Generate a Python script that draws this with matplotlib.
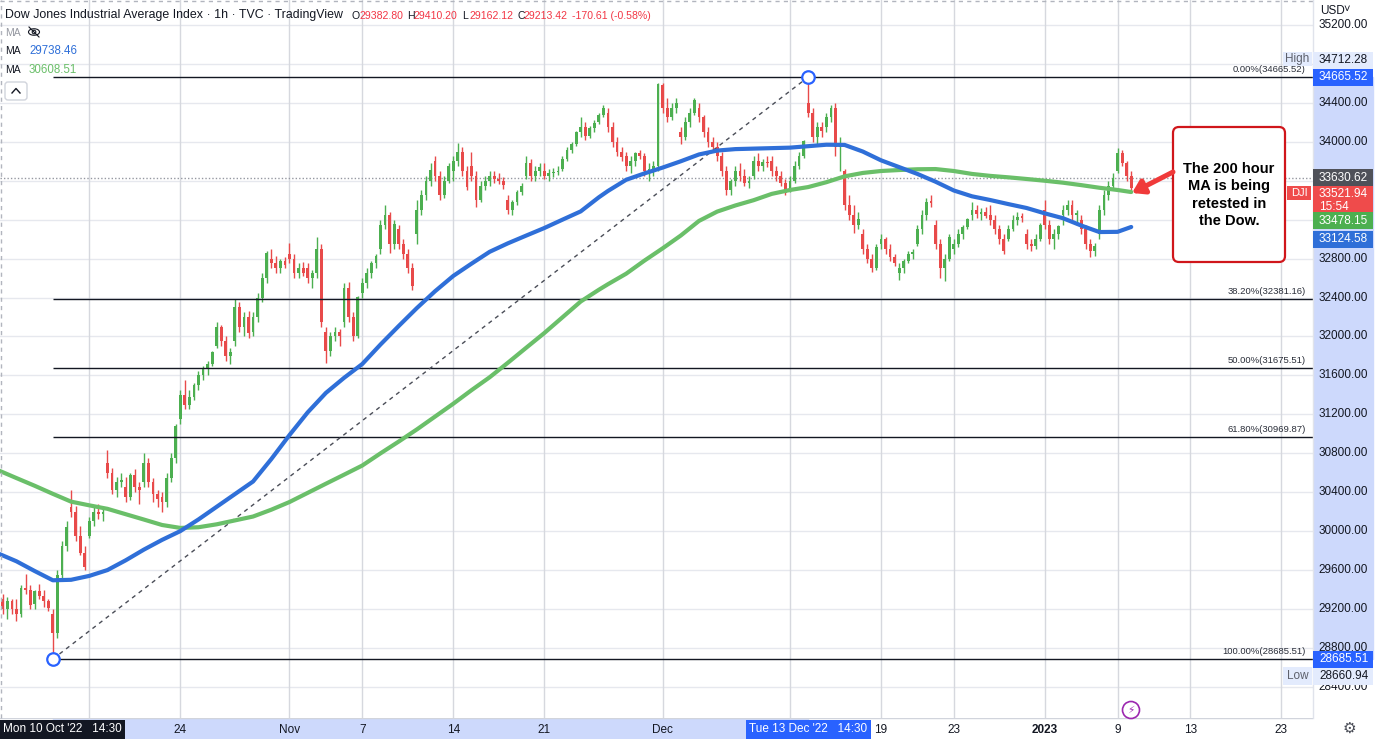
import matplotlib
matplotlib.use("Agg")
import matplotlib.pyplot as plt
import matplotlib.patches as mpatches
from matplotlib.lines import Line2D
from matplotlib.axes import Axes
from matplotlib.figure import Figure
import numpy as np

plt.rcParams['font.family'] = ['Liberation Sans', 'DejaVu Sans']

W, H = 1378, 739
PLOT_RIGHT = 1313
AXIS_TOP = 718

GREEN = '#4caf50'
RED = '#e84a4a'
MA_BLUE = '#2f6fd8'
MA_GREEN = '#6abf69'
TV_BLUE = '#2962ff'
BAND = '#cdd9fc'
GRID = '#e6e8ee'
VGRID = '#d6d8de'
TEXT = '#131722'

# ---------------------------------------------------------------- data
trading_days = [
    '2022-10-10', '2022-10-11', '2022-10-12', '2022-10-13', '2022-10-14',
    '2022-10-17', '2022-10-18', '2022-10-19', '2022-10-20', '2022-10-21',
    '2022-10-24', '2022-10-25', '2022-10-26', '2022-10-27', '2022-10-28',
    '2022-10-31', '2022-11-01', '2022-11-02', '2022-11-03', '2022-11-04',
    '2022-11-07', '2022-11-08', '2022-11-09', '2022-11-10', '2022-11-11',
    '2022-11-14', '2022-11-15', '2022-11-16', '2022-11-17', '2022-11-18',
    '2022-11-21', '2022-11-22', '2022-11-23', '2022-11-25',
    '2022-11-28', '2022-11-29', '2022-11-30', '2022-12-01', '2022-12-02',
    '2022-12-05', '2022-12-06', '2022-12-07', '2022-12-08', '2022-12-09',
    '2022-12-12', '2022-12-13', '2022-12-14', '2022-12-15', '2022-12-16',
    '2022-12-19', '2022-12-20', '2022-12-21', '2022-12-22', '2022-12-23',
    '2022-12-27', '2022-12-28', '2022-12-29', '2022-12-30',
    '2023-01-03', '2023-01-04', '2023-01-05', '2023-01-06', '2023-01-09',
]
half_days = ['2022-11-25']
future_days = [
    '2023-01-10', '2023-01-11', '2023-01-12', '2023-01-13', '2023-01-17',
    '2023-01-18', '2023-01-19', '2023-01-20', '2023-01-23',
]

# candles, one row per trading day (4 bars, 2 on the half day)
opens = [
    29400, 29300, 29200, 29280,  29200, 29150, 29420, 29400,  29250, 29380, 29330, 29280,
    29150, 28950, 29550, 29850,  30250, 30200, 29950, 29780,  29950, 30100, 30200, 30180,
    30700, 30600, 30420, 30500,  30450, 30350, 30580, 30450,  30500, 30700, 30500, 30380,
    30350, 30300, 30550, 30750,  31150, 31400, 31300, 31380,  31500, 31600, 31680, 31720,
    31900, 32100, 31950, 31800,  31950, 32300, 32100, 32200,  32050, 32200, 32400, 32600,
    32800, 32750, 32700, 32780,  32850, 32800, 32650, 32700,  32700, 32600, 32650, 32900,
    32050, 31850, 32000, 32050,  32150, 32500, 32200, 32000,  32450, 32550, 32650, 32750,
    32900, 33150, 33250, 32950,  33100, 32950, 32850, 32700,  33050, 33300, 33450, 33600,
    33800, 33650, 33450, 33600,  33700, 33800, 33900, 33700,  33750, 33650, 33400, 33550,
    33600, 33650, 33620, 33600,  33400, 33300, 33380, 33480,  33650, 33780, 33650, 33700,
    33700, 33650, 33680, 33690,  33720, 33820, 33920, 33980,  34100, 34150, 34060, 34140,
    34200, 34280,
    34300, 34150, 34000, 33900,  33850, 33750, 33800, 33880,  33850, 33700, 33720, 33750,
    34580, 34350, 34250, 34350,  34100, 34050, 34200, 34300,  34350, 34250, 34100, 34000,
    33950, 33850, 33700, 33500,  33600, 33700, 33650, 33580,  33650, 33800, 33750, 33790,
    33800, 33700, 33650, 33580,  33500, 33600, 33750, 33850,  34400, 34300, 34050, 34150,
    34150, 34250, 34350, 33950,  33700, 33350, 33250, 33150,  33050, 32900, 32800, 32700,
    32950, 33000, 32900, 32820,  32650, 32700, 32780, 32850,  32950, 33100, 33250, 33380,
    33150, 32950, 32700, 32800,  32900, 32950, 33050, 33120,  33250, 33300, 33260, 33280,
    33250, 33200, 33100, 33000,  33000, 33100, 33200, 33230,  33050, 32950, 32930, 33000,
    33300, 33150, 33000, 33050,  33250, 33300, 33350, 33250,  33200, 33100, 32950, 32880,
    33050, 33300, 33450, 33550,  33700, 33880, 33780, 33650,
]
highs = [
    29450, 29350, 29320, 29300,  29300, 29450, 29560, 29450,  29400, 29460, 29400, 29300,
    29200, 29600, 29900, 30100,  30420, 30260, 30050, 29850,  30150, 30250, 30280, 30240,
    30830, 30650, 30560, 30600,  30560, 30600, 30640, 30500,  30800, 30750, 30550, 30420,
    30400, 30600, 30800, 31100,  31450, 31550, 31450, 31520,  31650, 31700, 31750, 31850,
    32150, 32120, 32000, 31880,  32380, 32350, 32250, 32260,  32250, 32450, 32650, 32880,
    32900, 32830, 32800, 32820,  32960, 32850, 32750, 32760,  32750, 32680, 33020, 32950,
    32100, 32050, 32100, 32080,  32550, 32560, 32250, 32420,  32600, 32700, 32780, 32850,
    33200, 33350, 33280, 33200,  33150, 33000, 32900, 32750,  33400, 33500, 33650, 33780,
    33850, 33700, 33650, 33780,  33850, 33990, 33950, 33750,  33900, 33700, 33600, 33650,
    33700, 33700, 33680, 33640,  33450, 33400, 33500, 33580,  33850, 33820, 33750, 33780,
    33780, 33720, 33730, 33750,  33850, 33950, 34000, 34110,  34250, 34200, 34160, 34220,
    34300, 34380,
    34350, 34200, 34050, 33950,  33900, 33850, 33900, 33920,  33880, 33780, 33800, 34600,
    34600, 34450, 34400, 34450,  34150, 34250, 34350, 34450,  34400, 34280, 34150, 34050,
    34000, 33900, 33750, 33620,  33750, 33780, 33720, 33650,  33850, 33880, 33820, 33850,
    33850, 33750, 33700, 33620,  33650, 33800, 33900, 34020,  34712, 34350, 34200, 34200,
    34300, 34380, 34400, 34050,  33720, 33450, 33350, 33280,  33100, 32950, 32850, 32950,
    33050, 33020, 32950, 32850,  32750, 32800, 32880, 32900,  33150, 33300, 33420, 33450,
    33200, 33000, 32850, 33050,  33000, 33100, 33150, 33220,  33380, 33350, 33320, 33330,
    33350, 33250, 33150, 33050,  33150, 33250, 33280, 33270,  33100, 33000, 33050, 33170,
    33400, 33200, 33100, 33150,  33350, 33400, 33400, 33300,  33250, 33150, 33000, 32960,
    33350, 33500, 33600, 33680,  33935, 33920, 33800, 33700,
]
lows = [
    29250, 29150, 29100, 29150,  29080, 29120, 29350, 29200,  29200, 29300, 29220, 29180,
    28661, 28900, 29500, 29800,  30150, 29900, 29750, 29600,  29930, 30050, 30120, 30100,
    30550, 30380, 30350, 30450,  30300, 30320, 30400, 30280,  30450, 30450, 30300, 30250,
    30200, 30250, 30500, 30700,  31100, 31250, 31250, 31350,  31450, 31550, 31600, 31700,
    31880, 31900, 31750, 31720,  31900, 32050, 32000, 31980,  32000, 32150, 32350, 32550,
    32700, 32650, 32650, 32700,  32750, 32600, 32600, 32620,  32550, 32500, 32600, 32100,
    31730, 31800, 31950, 31900,  32100, 32150, 31950, 31980,  32400, 32500, 32600, 32700,
    32850, 33100, 32860, 32900,  32900, 32800, 32650, 32480,  32950, 33250, 33400, 33550,
    33600, 33400, 33420, 33580,  33600, 33750, 33650, 33500,  33600, 33330, 33380, 33500,
    33550, 33580, 33570, 33520,  33260, 33250, 33350, 33450,  33620, 33600, 33600, 33650,
    33620, 33600, 33640, 33660,  33700, 33800, 33880, 33960,  34050, 34020, 34040, 34100,
    34180, 34250,
    34100, 33950, 33850, 33800,  33700, 33680, 33750, 33820,  33650, 33600, 33650, 33700,
    34300, 34200, 34220, 34300,  33980, 34020, 34150, 34280,  34200, 34050, 33950, 33900,
    33800, 33650, 33450, 33450,  33550, 33600, 33550, 33530,  33620, 33700, 33700, 33740,
    33650, 33600, 33550, 33450,  33480, 33580, 33720, 33830,  34250, 34000, 33980, 34050,
    34100, 34200, 33850, 33700,  33300, 33200, 33060, 33100,  32850, 32750, 32660, 32680,
    32900, 32850, 32780, 32720,  32580, 32650, 32750, 32800,  32930, 33050, 33200, 33330,
    32900, 32600, 32573, 32780,  32850, 32920, 33000, 33100,  33200, 33220, 33200, 33220,
    33150, 33050, 32950, 32850,  32980, 33080, 33150, 33180,  32900, 32880, 32900, 32980,
    33100, 32950, 32900, 33000,  33150, 33250, 33200, 33150,  33050, 32900, 32820, 32830,
    33000, 33250, 33400, 33500,  33680, 33750, 33600, 33500,
]
closes = [
    29300, 29200, 29280, 29200,  29150, 29420, 29400, 29240,  29380, 29330, 29280, 29210,
    28950, 29550, 29850, 30040,  30200, 29950, 29780, 29634,  30100, 30200, 30180, 30185,
    30600, 30420, 30500, 30523,  30350, 30580, 30450, 30423,  30700, 30500, 30380, 30333,
    30300, 30550, 30750, 31082,  31400, 31300, 31380, 31499,  31600, 31680, 31720, 31836,
    32100, 31950, 31800, 31839,  32300, 32100, 32200, 32033,  32200, 32400, 32600, 32861,
    32750, 32700, 32780, 32733,  32800, 32650, 32700, 32653,  32600, 32650, 32900, 32147,
    31850, 32000, 32050, 32001,  32500, 32200, 32000, 32403,  32550, 32650, 32750, 32827,
    33150, 33250, 32950, 33160,  32950, 32850, 32700, 32514,  33300, 33450, 33600, 33715,
    33650, 33450, 33600, 33747,  33800, 33900, 33700, 33537,  33650, 33400, 33550, 33593,
    33650, 33620, 33600, 33554,  33300, 33380, 33480, 33546,  33780, 33650, 33700, 33746,
    33650, 33680, 33690, 33700,  33820, 33920, 33980, 34098,  34150, 34060, 34140, 34194,
    34280, 34347,
    34150, 34000, 33900, 33849,  33750, 33800, 33880, 33853,  33700, 33720, 33750, 34590,
    34350, 34250, 34350, 34395,  34050, 34200, 34300, 34430,  34250, 34100, 34000, 33947,
    33850, 33700, 33500, 33596,  33700, 33650, 33580, 33597,  33800, 33750, 33790, 33781,
    33700, 33650, 33580, 33476,  33600, 33750, 33850, 34005,  34300, 34050, 34150, 34108,
    34250, 34350, 33950, 33966,  33350, 33250, 33150, 33202,  32900, 32800, 32700, 32920,
    33000, 32900, 32820, 32757,  32700, 32780, 32850, 32850,  33100, 33250, 33380, 33376,
    32950, 32700, 32800, 33027,  32950, 33050, 33120, 33203,  33300, 33260, 33280, 33241,
    33200, 33100, 33000, 32875,  33100, 33200, 33230, 33221,  32950, 32930, 33000, 33147,
    33150, 33000, 33050, 33136,  33300, 33350, 33250, 33270,  33100, 32950, 32880, 32930,
    33300, 33450, 33550, 33631,  33880, 33780, 33650, 33522,
]

# moving averages read at the first bar of each day, last value at the final bar
ma100 = [
    29770, 29690, 29590, 29495, 29500, 29540, 29600, 29700, 29810, 29910,
    30000, 30120, 30250, 30380, 30510, 30740, 30987, 31220, 31420, 31575,
    31717, 31917, 32107, 32292, 32465, 32622, 32748, 32870, 32957, 33036,
    33114, 33200, 33285, 33430, 33495, 33610, 33675, 33735, 33800, 33870,
    33910, 33925, 33930, 33935, 33940, 33955, 33970, 33968, 33900, 33810,
    33740, 33670, 33590, 33500, 33440, 33402, 33360, 33320, 33265, 33215,
    33140, 33073, 33075, 33125,
]
ma200 = [
    30625, 30545, 30466, 30383, 30303, 30265, 30229, 30174, 30119, 30063,
    30033, 30040, 30070, 30110, 30150, 30220, 30299, 30393, 30487, 30580,
    30674, 30799, 30920, 31045, 31177, 31309, 31448, 31581, 31730, 31883,
    32035, 32197, 32359, 32480, 32537, 32645, 32779, 32905, 33037, 33187,
    33283, 33346, 33400, 33465, 33505, 33535, 33585, 33645, 33680, 33700,
    33710, 33718, 33720, 33700, 33670, 33650, 33635, 33618, 33600, 33580,
    33555, 33528, 33505, 33484,
]

fib_high = 34665.52
fib_low = 28685.51
fib_ratios = [0.0, 0.382, 0.5, 0.618, 1.0]

price_ticks = list(range(28400, 35201, 400))
hidden_price_ticks = [33200, 33600, 34800]

# '' = grid line only, its label sits under the crosshair date boxes
date_ticks = {
    '2022-10-17': '', '2022-10-24': '24', '2022-11-01': 'Nov', '2022-11-07': '7',
    '2022-11-14': '14', '2022-11-21': '21', '2022-12-01': 'Dec', '2022-12-12': '',
    '2022-12-19': '19', '2022-12-23': '23', '2023-01-03': '2023', '2023-01-09': '9',
    '2023-01-13': '13', '2023-01-23': '23',
}

prev_close = 33630.62
last_price = 33521.94
ma100_last = 33124.58
ma200_last = 33478.15
session_high = 34712.28
session_low = 28660.94


def px(x, y):
    """Pixel position (from top-left) to inches for fig.dpi_scale_trans."""
    return (x / 100, (H - y) / 100)


def day_start_index():
    starts, n = {}, 0
    for d in trading_days:
        starts[d] = n
        n += 2 if d in half_days else 4
    for d in future_days:
        starts[d] = n
        n += 4
    return starts


def plot_candles(ax: Axes) -> None:
    o, h, l, c = map(np.array, (opens, highs, lows, closes))
    x = np.arange(len(c))
    colors = np.where(c >= o, GREEN, RED)
    ax.vlines(x, l, h, colors=colors, lw=1, zorder=3)
    ax.bar(x, np.maximum(np.abs(c - o), 14), bottom=np.minimum(o, c),
           width=0.62, color=colors, linewidth=0, zorder=4)


def plot_mas(ax: Axes, starts: dict) -> None:
    ma_x = [starts[d] for d in trading_days] + [len(closes) - 1]
    ax.plot(ma_x, ma200, color=MA_GREEN, lw=3.0, zorder=6,
            solid_capstyle='round', solid_joinstyle='round')
    ax.plot(ma_x, ma100, color=MA_BLUE, lw=3.0, zorder=7,
            solid_capstyle='round', solid_joinstyle='round')


def plot_fib(ax: Axes) -> tuple:
    i_lo = int(np.argmin(lows))
    i_hi = int(np.argmax(highs))
    x_end = ax.get_xlim()[1]
    for r in fib_ratios:
        level = fib_high - r * (fib_high - fib_low)
        ax.hlines(level, i_lo, x_end, color=TEXT, lw=1, zorder=5)
        ax.annotate(f'{r * 100:.2f}%({level:.2f})', (x_end, level),
                    xytext=(-7, 3), textcoords='offset pixels',
                    ha='right', va='bottom', fontsize=6.8, color='#2a2e39',
                    zorder=9)
    ax.plot([i_lo, i_hi], [fib_low, fib_high], color='#4a4d57', lw=1,
            ls=(0, (3, 3)), zorder=5)
    ax.plot([i_lo, i_hi], [fib_low, fib_high], 'o', ms=9, mfc='white',
            mec=TV_BLUE, mew=1.6, zorder=9)
    return i_lo, i_hi


def style_main(ax: Axes, starts: dict) -> None:
    for side in ax.spines:
        ax.spines[side].set_visible(False)
    ax.set_xticks([])
    ax.set_yticks([])
    for p in price_ticks:
        ax.axhline(p, color=GRID, lw=1, zorder=0)
    for d in date_ticks:
        ax.axvline(starts[d], color=VGRID, lw=1, zorder=0)
    ax.axhline(prev_close, color='#9598a1', lw=1, ls=(0, (1, 1.5)), zorder=2)


def to_px_y(ax: Axes, price: float) -> float:
    return H - ax.transData.transform((0, price))[1]


def to_px_x(ax: Axes, idx: float) -> float:
    return ax.transData.transform((idx, 0))[0]


def add_rect(fig: Figure, x0, y0, x1, y1, color, **kw):
    rect = mpatches.Rectangle(px(x0, y1), (x1 - x0) / 100, (y1 - y0) / 100,
                              transform=fig.dpi_scale_trans, facecolor=color,
                              edgecolor='none', **kw)
    fig.add_artist(rect)
    return rect


def ftext(fig: Figure, x, y, s, **kw):
    kw.setdefault('fontsize', 8.5)
    kw.setdefault('color', TEXT)
    kw.setdefault('va', 'center')
    fig.text(*px(x, y), s, transform=fig.dpi_scale_trans, **kw)


def draw_time_axis(fig: Figure, ax: Axes, starts: dict, i_lo, i_hi) -> None:
    ax_t = fig.add_axes([0, 0, PLOT_RIGHT / W, (H - AXIS_TOP) / H])
    ax_t.set_xlim(ax.get_xlim())
    ax_t.set_ylim(0, 1)
    ax_t.axis('off')
    ax_t.axvspan(i_lo, i_hi, color=BAND, zorder=0)
    ax_t.axhline(1, color='#d1d4dc', lw=1)
    for d, label in date_ticks.items():
        if not label:
            continue
        ax_t.text(starts[d], 0.42, label, ha='center', va='center', fontsize=8.5,
                  color=TEXT, fontweight='bold' if label == '2023' else 'normal')
    for idx, label, color in [(i_lo, "Mon 10 Oct '22   14:30", TEXT),
                              (i_hi, "Tue 13 Dec '22   14:30", TV_BLUE)]:
        cx = max(to_px_x(ax, idx), 62.5)
        add_rect(fig, cx - 62.5, 720, cx + 62.5, 739, color, zorder=5)
        ftext(fig, cx, 729.5, label, ha='center', color='white', fontsize=8.5,
              zorder=6)


def axis_label(fig: Figure, ax: Axes, price, text, bg, fg='white', shift=0, h=17):
    cy = to_px_y(ax, price) + shift
    add_rect(fig, PLOT_RIGHT, cy - h / 2, W - 5, cy + h / 2, bg, zorder=5)
    ftext(fig, 1319, cy, text, color=fg, zorder=6)
    return cy


def draw_price_axis(fig: Figure, ax: Axes) -> None:
    ax_p = fig.add_axes([PLOT_RIGHT / W, (H - AXIS_TOP) / H,
                         (W - PLOT_RIGHT) / W, AXIS_TOP / H])
    ax_p.set_ylim(ax.get_ylim())
    ax_p.set_xlim(0, 1)
    ax_p.axis('off')
    ax_p.axhspan(fib_low, fib_high, xmax=0.93, color=BAND, zorder=0)
    for p in price_ticks:
        if p in hidden_price_ticks:
            continue
        ax_p.text(0.09, p, f'{p:.2f}', va='center', ha='left', fontsize=8.5,
                  color=TEXT, zorder=1)

    cy = axis_label(fig, ax, session_high, f'{session_high:.2f}', '#e3ebfd',
                    fg=TEXT, shift=-12)
    add_rect(fig, 1283, cy - 8, 1312, cy + 6, '#e3ebfd', zorder=5)
    ftext(fig, 1309, cy - 1, 'High', ha='right', color='#5d606b', zorder=6)
    axis_label(fig, ax, fib_high, f'{fib_high:.2f}', TV_BLUE)
    axis_label(fig, ax, prev_close, f'{prev_close:.2f}', '#4f5159')

    cy = to_px_y(ax, last_price)
    add_rect(fig, PLOT_RIGHT, cy - 2, W - 5, cy + 25, '#ef4b4b', zorder=5)
    ftext(fig, 1319, cy + 6, f'{last_price:.2f}', color='white', zorder=6)
    ftext(fig, 1319, cy + 19, '15:54', color='white', zorder=6)
    add_rect(fig, 1287, cy - 2, 1311, cy + 12, '#ef4b4b', zorder=5)
    ftext(fig, 1299, cy + 5, 'DJI', ha='center', color='white', fontsize=8, zorder=6)

    axis_label(fig, ax, ma200_last, f'{ma200_last:.2f}', GREEN, shift=28)
    axis_label(fig, ax, ma100_last, f'{ma100_last:.2f}', MA_BLUE, shift=12)
    axis_label(fig, ax, fib_low, f'{fib_low:.2f}', TV_BLUE)
    cy = axis_label(fig, ax, session_low, f'{session_low:.2f}', '#e3ebfd',
                    fg=TEXT, shift=15)
    add_rect(fig, 1283, cy - 9, 1312, cy + 9, '#e3ebfd', zorder=5)
    ftext(fig, 1309, cy, 'Low', ha='right', color='#5d606b', zorder=6)

    ftext(fig, 1320, 11, 'USD', fontsize=8.5)
    ftext(fig, 1343, 9, '˅', fontsize=8)
    ftext(fig, 1349, 729, '⚙', ha='center', fontsize=11, color='#4a4d57')


def draw_header(fig: Figure) -> None:
    ftext(fig, 5, 15, 'Dow Jones Industrial Average Index · 1h · TVC · TradingView',
          fontsize=8.9)
    red = '#f23645'
    for x, letter, value in [(352, 'O', '29382.80'), (407, 'H', '29410.20'),
                             (462, 'L', '29162.12'), (517, 'C', '29213.42')]:
        ftext(fig, x, 16, letter, fontsize=7.6)
        ftext(fig, x + 7, 16, value, fontsize=7.6, color=red)
    ftext(fig, 572, 16, '-170.61 (-0.58%)', fontsize=7.6, color=red)

    ftext(fig, 5, 33, 'MA', fontsize=7.5, color='#9598a1')
    eye = mpatches.Ellipse(px(34, 32), 0.11, 0.065, transform=fig.dpi_scale_trans,
                           facecolor='none', edgecolor=TEXT, lw=0.8)
    fig.add_artist(eye)
    fig.add_artist(mpatches.Circle(px(34, 32), 0.018, transform=fig.dpi_scale_trans,
                                   facecolor='none', edgecolor=TEXT, lw=0.8))
    fig.add_artist(Line2D([0.29, 0.39], [(H - 27) / 100, (H - 37) / 100],
                          transform=fig.dpi_scale_trans, color=TEXT, lw=0.8))
    ftext(fig, 5, 51, 'MA', fontsize=7.5)
    ftext(fig, 29, 51, '29738.46', fontsize=8.3, color=MA_BLUE)
    ftext(fig, 5, 70, 'MA', fontsize=7.5)
    ftext(fig, 29, 70, '30608.51', fontsize=8.3, color=MA_GREEN)

    box = mpatches.FancyBboxPatch(px(5, 100), 0.22, 0.18,
                                  boxstyle='round,pad=0,rounding_size=0.03',
                                  transform=fig.dpi_scale_trans,
                                  facecolor='white', edgecolor='#d1d4dc', lw=1)
    fig.add_artist(box)
    fig.add_artist(Line2D([0.12, 0.16, 0.20],
                          [(H - 93) / 100, (H - 88.5) / 100, (H - 93) / 100],
                          transform=fig.dpi_scale_trans, color=TEXT, lw=1))

    fig.add_artist(Line2D([0, PLOT_RIGHT / 100], [(H - 1) / 100] * 2,
                          transform=fig.dpi_scale_trans, color='#b2b5be',
                          lw=1, ls=(0, (3, 3))))
    fig.add_artist(Line2D([0.005, 0.005], [(H - AXIS_TOP) / 100, H / 100],
                          transform=fig.dpi_scale_trans, color='#b2b5be',
                          lw=1, ls=(0, (3, 3))))
    fig.add_artist(Line2D([PLOT_RIGHT / 100] * 2, [(H - AXIS_TOP) / 100, H / 100],
                          transform=fig.dpi_scale_trans, color='#e0e3eb', lw=1))


def draw_annotation(fig: Figure) -> None:
    box = mpatches.FancyBboxPatch(px(1173, 262), 1.12, 1.35,
                                  boxstyle='round,pad=0,rounding_size=0.06',
                                  transform=fig.dpi_scale_trans,
                                  facecolor='white', edgecolor='#d0161b',
                                  lw=1.6, zorder=10)
    fig.add_artist(box)
    ftext(fig, 1229, 195, 'The 200 hour\nMA is being\nretested in\nthe Dow.',
          ha='center', fontsize=10.5, fontweight='bold', color='black',
          linespacing=1.3, zorder=11)
    arrow = mpatches.FancyArrowPatch(px(1173, 172), px(1132, 193),
                                     transform=fig.dpi_scale_trans,
                                     arrowstyle='-|>,head_length=7,head_width=4.5',
                                     color='#f03a3a', lw=3.6, zorder=10,
                                     shrinkA=0, shrinkB=0)
    fig.add_artist(arrow)

    ring = mpatches.Circle(px(1131, 710), 0.085, transform=fig.dpi_scale_trans,
                           facecolor='white', edgecolor='#9c27b0', lw=1.2)
    fig.add_artist(ring)
    ftext(fig, 1131, 710, '⚡', ha='center', fontsize=7.5, color='#9c27b0',
          family='DejaVu Sans')


def create_graph() -> None:
    fig = plt.figure(figsize=(W / 100, H / 100), dpi=100)
    fig.patch.set_facecolor('white')
    ax = fig.add_axes([0, (H - AXIS_TOP) / H, PLOT_RIGHT / W, AXIS_TOP / H])
    ax.set_xlim(0.38, 288.95)
    ax.set_ylim(28080, 35457)

    starts = day_start_index()
    style_main(ax, starts)
    plot_candles(ax)
    plot_mas(ax, starts)
    i_lo, i_hi = plot_fib(ax)
    draw_time_axis(fig, ax, starts, i_lo, i_hi)
    draw_price_axis(fig, ax)
    draw_header(fig)
    draw_annotation(fig)
    fig.savefig('out.png', dpi=100)


create_graph()
